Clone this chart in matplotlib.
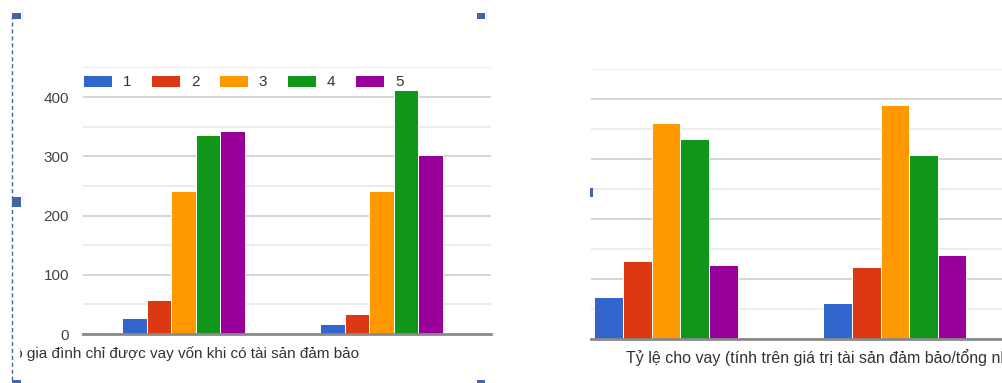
import matplotlib
matplotlib.use("Agg")
import matplotlib.pyplot as plt
import numpy as np
from matplotlib.patches import Rectangle
from matplotlib.lines import Line2D
from matplotlib.transforms import Bbox

plt.rcParams['font.family'] = ['Liberation Sans', 'DejaVu Sans']

series_labels = ["1", "2", "3", "4", "5"]
colors = ["#3366cc", "#dc3912", "#ff9900", "#109618", "#990099"]

left_groups = ["A", "B"]
left_values = [
    [27, 17],    # 1
    [58, 34],    # 2
    [242, 242],  # 3
    [336, 412],  # 4
    [343, 302],  # 5
]
left_yticks = [0, 100, 200, 300, 400]
left_title = "Số hộ gia đình chỉ được vay vốn khi có tài sản đảm bảo"

right_groups = ["A", "B"]
right_values = [
    [70, 60],    # 1
    [130, 120],  # 2
    [360, 390],  # 3
    [333, 307],  # 4
    [123, 140],  # 5
]
right_title = "Tỷ lệ cho vay (tính trên giá trị tài sản đảm bảo/tổng nhu cầu vốn)"

W, H = 1003, 383
fig = plt.figure(figsize=(W / 100, H / 100), dpi=100)


def px_axes(x0, y_top, x1, y_bot):
    return fig.add_axes([x0 / W, (H - y_bot) / H, (x1 - x0) / W, (y_bot - y_top) / H])


def style_axes(ax, show_labels):
    ax.set_ylim(0, 450)
    ax.set_yticks(left_yticks)
    ax.set_yticks([50, 150, 250, 350, 450], minor=True)
    ax.grid(True, which='major', axis='y', color='#d4d4d4', lw=1.4)
    ax.grid(True, which='minor', axis='y', color='#ececec', lw=1.4)
    ax.set_axisbelow(True)
    for s in ['top', 'right', 'left']:
        ax.spines[s].set_visible(False)
    ax.spines['bottom'].set_color('#8a8a8a')
    ax.spines['bottom'].set_linewidth(2)
    ax.tick_params(axis='both', which='both', length=0)
    ax.set_xticks([])
    if show_labels:
        ax.tick_params(axis='y', labelsize=11, labelcolor='#444444', pad=10)
    else:
        ax.set_yticklabels([])


def draw_bars(ax, values, width):
    x = np.arange(len(values[0]))
    n = len(values)
    for i, (vals, c, lab) in enumerate(zip(values, colors, series_labels)):
        ax.bar(x + (i - (n - 1) / 2) * width, vals, width, color=c,
               edgecolor='white', linewidth=0.7, label=lab)

# Left chart
axL = px_axes(83, 67.4, 491, 334)
draw_bars(axL, left_values, 0.124)
axL.set_xlim(-0.507, 1.553)
style_axes(axL, True)
axL.legend(loc='center left', bbox_to_anchor=(0.0, (334 - 82) / (334 - 67.4)),
           ncol=5, frameon=False, fontsize=11, handlelength=1.9,
           handleheight=0.9, handletextpad=0.7, columnspacing=1.3,
           borderpad=0, borderaxespad=0, labelcolor='#333333')

tL = fig.text(359 / W, (H - 354) / H, left_title, ha='right', va='center',
              fontsize=11, color='#333333')
tL.set_clip_on(True)
tL.set_clip_box(Bbox.from_extents(20, 0, W, H))

# Right chart
axR = px_axes(591, 69, 1003, 339)
draw_bars(axR, right_values, 0.125)
axR.set_xlim(-0.3275, 1.472)
style_axes(axR, False)

fig.text(626 / W, (H - 358) / H, right_title, ha='left', va='center',
         fontsize=11.5, color='#333333')

# selection frame decorations (left image)
sel = '#41679e'
fig.add_artist(Line2D([12.5 / W, 12.5 / W], [(H - 15) / H, 0], color=sel, lw=1,
                      linestyle=(0, (3, 2))))
for (x0, y0, w, h) in [(12, 13, 9, 6), (12, 197, 9, 10), (477, 13, 8, 6),
                       (12, 380, 9, 3), (477, 380, 8, 3), (590, 188, 3, 9)]:
    fig.add_artist(Rectangle((x0 / W, (H - y0 - h) / H), w / W, h / H,
                             facecolor=sel, edgecolor='none'))

fig.savefig('out.png', dpi=100)
